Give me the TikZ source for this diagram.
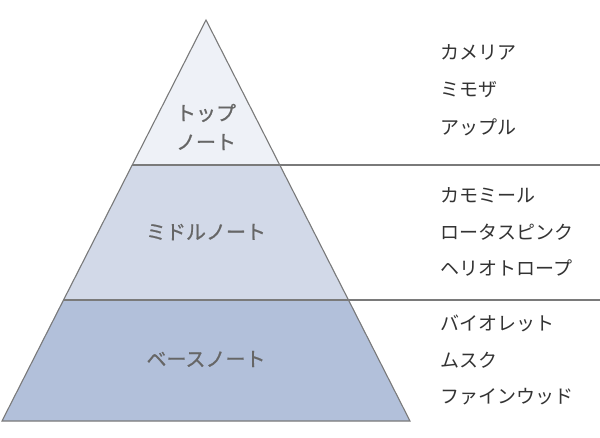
\documentclass[tikz,border=0pt]{standalone}
\usepackage{fontspec}
\setmainfont{Noto Sans CJK JP}
\newfontfamily\layerfont{Noto Sans CJK JP}[FakeBold=0.8]
\definecolor{edgegray}{HTML}{7A7A7A}
\definecolor{topfill}{HTML}{EEF1F7}
\definecolor{midfill}{HTML}{D2D9E8}
\definecolor{basefill}{HTML}{B2C0DA}
\definecolor{layertext}{HTML}{666666}
\definecolor{itemtext}{HTML}{333333}
\begin{document}
\begin{tikzpicture}[
    x=1pt, y=-1pt,
    layer/.style={font=\layerfont\fontsize{20}{29}\selectfont, text=layertext, align=center, inner sep=0pt},
    item/.style={font=\fontsize{19}{22}\selectfont, text=itemtext, anchor=west, inner sep=0pt},
    edge/.style={draw=edgegray, line width=1.1pt}
]
\useasboundingbox (0,0) rectangle (600,437);

% pyramid corners
\coordinate (apex) at (206,20);
\coordinate (tl) at (132,165);
\coordinate (tr) at (280,165);
\coordinate (ml) at (63,300);
\coordinate (mr) at (349,300);
\coordinate (bl) at (2,421);
\coordinate (br) at (410,421);
\coordinate (tend) at (600,165);
\coordinate (mend) at (600,300);

\fill[topfill] (apex) -- (tr) -- (tl) -- cycle;
\fill[midfill] (tl) -- (tr) -- (mr) -- (ml) -- cycle;
\fill[basefill] (ml) -- (mr) -- (br) -- (bl) -- cycle;

\draw[edge, line join=miter] (apex) -- (br) -- (bl) -- cycle;
\draw[edge] (tl) -- (tend);
\draw[edge] (ml) -- (mend);

\node[layer] (top) at (206,127) {トップ\\ノート};
\node[layer] (middle) at (206,232) {ミドルノート};
\node[layer] (base) at (206,359) {ベースノート};

\node[item] (camellia) at (440,52) {カメリア};
\node[item] (mimosa) at (440,90) {ミモザ};
\node[item] (apple) at (440,127) {アップル};
\node[item] (chamomile) at (440,195) {カモミール};
\node[item] (lotus) at (440,232) {ロータスピンク};
\node[item] (heliotrope) at (440,268) {ヘリオトロープ};
\node[item] (violet) at (440,323) {バイオレット};
\node[item] (musk) at (440,360) {ムスク};
\node[item] (wood) at (440,397) {ファインウッド};
\end{tikzpicture}
\end{document}
